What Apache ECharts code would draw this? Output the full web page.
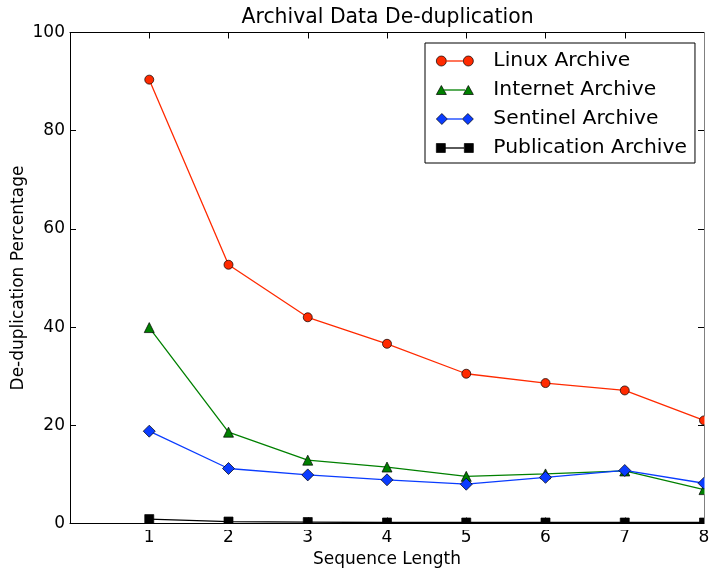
<!DOCTYPE html>
<html><head><meta charset="utf-8">
<script src="https://cdn.jsdelivr.net/npm/echarts@6/dist/echarts.min.js"></script>
<style>html,body{margin:0;padding:0;background:#fff}#c{width:709px;height:569px}</style>
</head><body><div id="c"></div>
<script>
const seqLen = [1, 2, 3, 4, 5, 6, 7, 8];
const linux = [90.4, 52.7, 42.0, 36.6, 30.5, 28.6, 27.1, 21.0];
const internet = [39.9, 18.6, 12.9, 11.5, 9.6, 10.1, 10.7, 6.9];
const sentinel = [18.8, 11.2, 9.9, 8.9, 8.0, 9.4, 10.8, 8.2];
const publication = [0.9, 0.4, 0.3, 0.2, 0.2, 0.2, 0.2, 0.2];
const seriesNames = ['Linux Archive', 'Internet Archive', 'Sentinel Archive', 'Publication Archive'];
const seriesColors = ['#ff2a00', '#008000', '#0a3cff', '#000000'];

const F = 'DejaVu Sans';
const pairs = a => a.map((v, i) => [seqLen[i], v]);
const chart = echarts.init(document.getElementById('c'));

const G = {left: 70, right: 5, top: 32.5, bottom: 45.5};
const W = 709, H = 569;

const axBase = {
  axisLine: {show: true, onZero: false, lineStyle: {color: '#000', width: 1}},
  axisTick: {show: true, inside: true, length: 6, lineStyle: {color: '#000', width: 1}},
  splitLine: {show: false}
};
function mk(name, data, color, symbol, size) {
  return {
    name, type: 'line', data: pairs(data), symbol, symbolSize: size,
    lineStyle: {color, width: 1.3},
    itemStyle: {color, borderColor: '#000', borderWidth: 0.7},
    emphasis: {disabled: true}, z: 3
  };
}
// legend icons: pair of markers (connecting line added as graphic below)
const symIcons = [
  'path://M0,5 A5,5 0 1,0 10,5 A5,5 0 1,0 0,5 Z M27,5 A5,5 0 1,0 37,5 A5,5 0 1,0 27,5 Z',
  'path://M0,9 L5,0 L10,9 Z M27,9 L32,0 L37,9 Z',
  'path://M0,5.5 L5.5,0 L11,5.5 L5.5,11 Z M26,5.5 L31.5,0 L37,5.5 L31.5,11 Z',
  'path://M0,0 L9,0 L9,9 L0,9 Z M28,0 L37,0 L37,9 L28,9 Z'
];
const innerGap = [[10, 27], [8, 29], [11, 26], [9, 28]];
const L = {left: 425, top: 43, padT: 8, padL: 11, itemW: 37, itemH: 20, gap: 9};

const legendLines = seriesNames.map((n, i) => {
  const cy = L.top + L.padT + i * (L.itemH + L.gap) + L.itemH / 2;
  const x0 = L.left + L.padL;
  return {type: 'line', z: 50, silent: true,
    shape: {x1: x0 + innerGap[i][0], y1: cy, x2: x0 + innerGap[i][1], y2: cy},
    style: {stroke: seriesColors[i], lineWidth: 1.3}};
});

chart.setOption({
  animation: false,
  backgroundColor: '#fff',
  title: {text: 'Archival Data De-duplication', left: 236.5, top: 3,
    textStyle: {fontFamily: F, fontSize: 20.4, fontWeight: 'normal', color: '#000'}},
  grid: Object.assign({outerBoundsMode: 'none', containLabel: false}, G),
  legend: {
    orient: 'vertical', left: L.left, top: L.top,
    itemWidth: L.itemW, itemHeight: L.itemH, itemGap: L.gap,
    padding: [L.padT, 8, 5, L.padL],
    selectedMode: false,
    borderColor: '#000', borderWidth: 1, backgroundColor: '#fff',
    itemStyle: {borderColor: '#000', borderWidth: 0.7},
    textStyle: {fontFamily: F, fontSize: 20.3, color: '#000', padding: [0, 0, 0, 15]},
    data: seriesNames.map((n, i) => ({name: n, icon: symIcons[i]})),
    z: 10
  },
  xAxis: [
    Object.assign({}, axBase, {type: 'value', min: 0, max: 8, interval: 1,
      name: 'Sequence Length', nameLocation: 'middle', nameGap: 28, nameMoveOverlap: false,
      nameTextStyle: {fontFamily: F, fontSize: 17, color: '#000'},
      axisLabel: {fontFamily: F, fontSize: 17, color: '#000', margin: 6,
        formatter: v => v === 0 ? '' : String(v)}}),
    Object.assign({}, axBase, {type: 'value', min: 0, max: 8, interval: 1, position: 'top',
      axisLabel: {show: false}})
  ],
  yAxis: [
    Object.assign({}, axBase, {type: 'value', min: 0, max: 100, interval: 20,
      name: 'De-duplication Percentage', nameLocation: 'middle', nameGap: 43, nameMoveOverlap: false,
      nameTextStyle: {fontFamily: F, fontSize: 17, color: '#000'},
      axisLabel: {fontFamily: F, fontSize: 17, color: '#000', margin: 5}}),
    Object.assign({}, axBase, {type: 'value', min: 0, max: 100, interval: 20, position: 'right',
      axisLabel: {show: false}})
  ],
  graphic: [
    {type: 'rect', z: 5, silent: true,
      shape: {x: W - G.right + 0.5, y: 0, width: G.right, height: H - G.bottom + 1},
      style: {fill: '#fff'}},
    {type: 'rect', z: 5, silent: true,
      shape: {x: G.left, y: H - G.bottom + 0.5, width: W - G.left, height: 6},
      style: {fill: '#fff'}}
  ].concat(legendLines),
  series: [
    mk(seriesNames[0], linux, seriesColors[0], 'circle', 9),
    mk(seriesNames[1], internet, seriesColors[1], 'triangle', 10),
    mk(seriesNames[2], sentinel, seriesColors[2], 'diamond', 12),
    mk(seriesNames[3], publication, seriesColors[3], 'rect', 9)
  ]
});
</script></body></html>
